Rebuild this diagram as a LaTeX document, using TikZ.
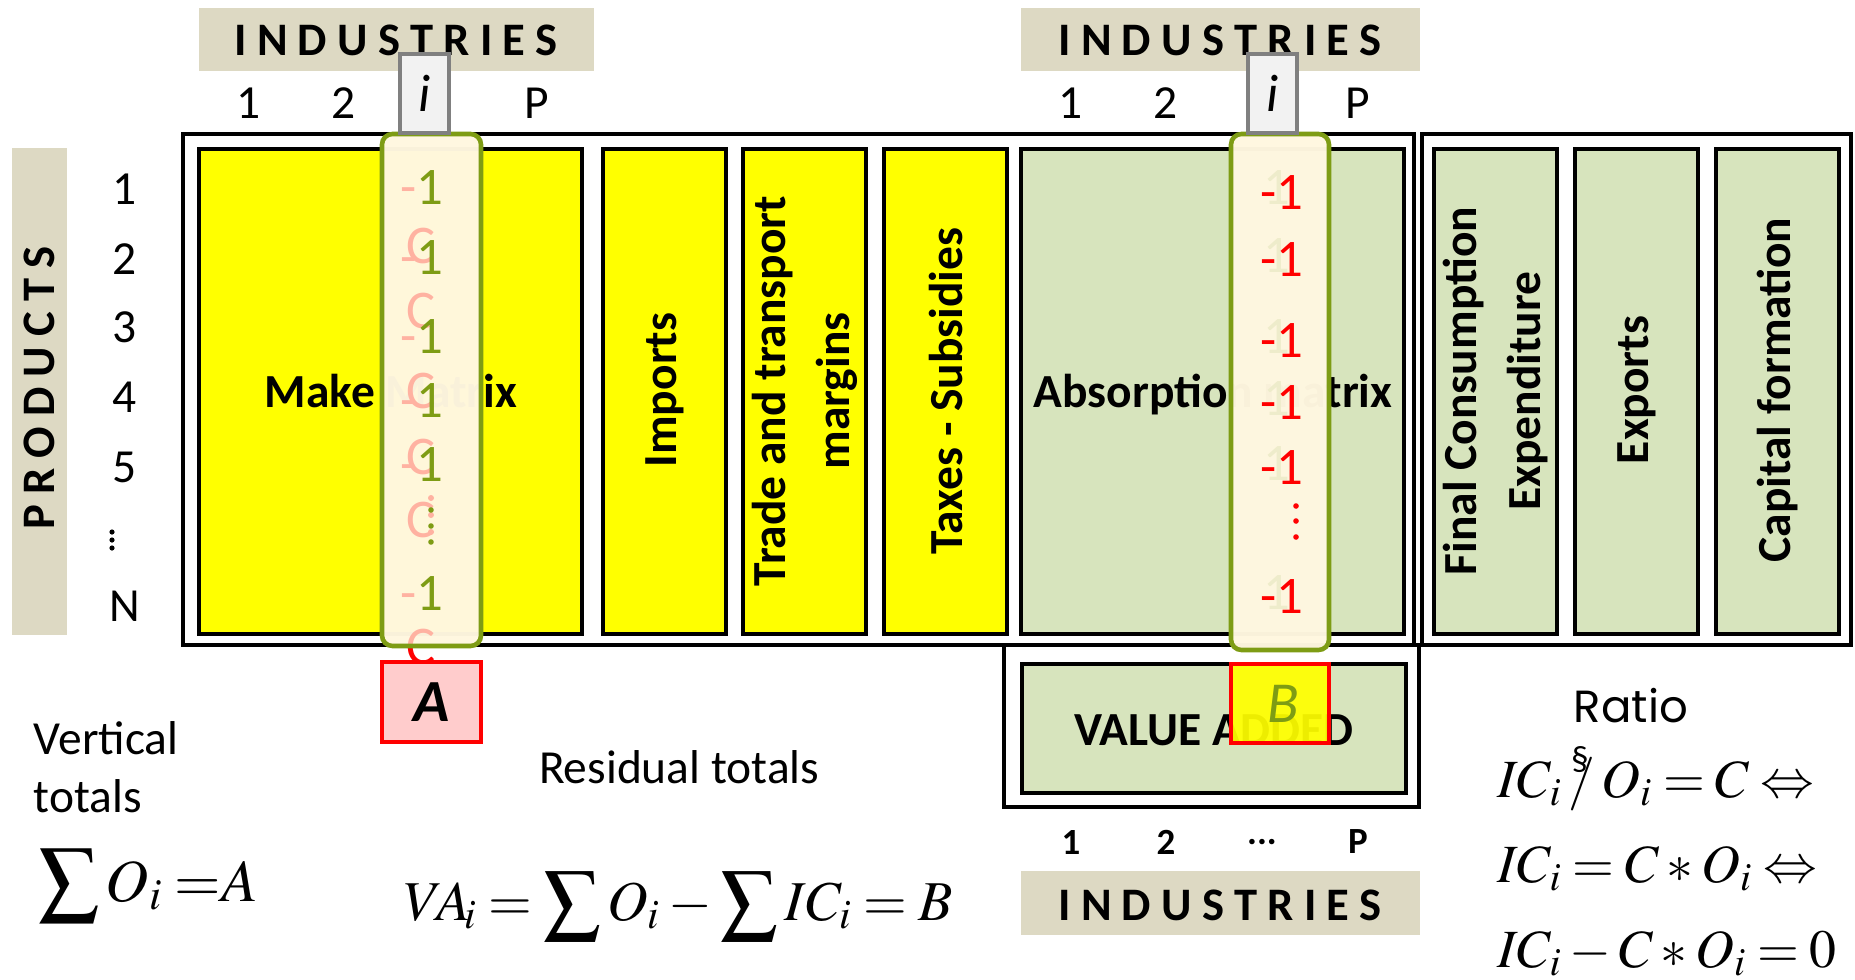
\documentclass[tikz,border=0pt]{standalone}
\usepackage[no-math]{fontspec}
\usepackage{mathptmx}
\setmainfont{Carlito}
\newfontfamily\ratiofont{Poppins}
\definecolor{tanband}{HTML}{DDD9C3}
\definecolor{yel}{HTML}{FFFF00}
\definecolor{lgreen}{HTML}{D7E4BD}
\definecolor{olive}{HTML}{7E9C14}
\definecolor{cream}{HTML}{FFF7E0}
\definecolor{pinkfill}{HTML}{FFCCCC}
\definecolor{ibox}{HTML}{F2F2F2}
\definecolor{iborder}{HTML}{808080}
\newcommand\lsp{\kern 2.9pt}
\newcommand\slashthing{\mathord{\rlap{\raisebox{1.05ex}{\kern0.05em\fontsize{10}{10}\selectfont\S}}/}}
\newcommand\tightmath{\thickmuskip=3.5mu plus 1mu\medmuskip=2.5mu plus 1mu}
\begin{document}
\begin{tikzpicture}[x=0.01cm,y=-0.01cm,
  every node/.style={inner sep=0pt,outer sep=0pt},
  mainframe/.style={draw=black,line width=1.4pt},
  cellbox/.style={draw=black,line width=0.9pt},
  bandtxt/.style={font=\fontsize{13.25}{16}\selectfont\bfseries},
  numtxt/.style={font=\fontsize{13.5}{16}\selectfont},
  boldnum/.style={font=\fontsize{10.5}{12}\selectfont\bfseries},
  celltxt/.style={font=\fontsize{13.5}{18.2}\selectfont\bfseries,align=center},
  rotcell/.style={celltxt,rotate=90},
  onetxt/.style={font=\fontsize{15}{18}\selectfont,anchor=base},
  ctxt/.style={font=\fontsize{15.5}{18}\selectfont,text=red},
  labtxt/.style={font=\fontsize{13.5}{16}\selectfont,anchor=base west},
  eq/.style={font=\fontsize{17}{20}\selectfont\tightmath,anchor=base west},
  eqv/.style={font=\fontsize{16}{19}\selectfont\tightmath,anchor=base west},
  eqr/.style={font=\fontsize{15.3}{18}\selectfont\tightmath,anchor=base west},
  colover/.style={fill=cream,rounded corners=3},
  ilab/.style={fill=ibox,draw=iborder,line width=1pt}]
\path[use as bounding box] (0,0) rectangle (1855,979);
\fill[white] (0,0) rectangle (1855,979);

% header bands
\fill[tanband] (199,8) rectangle (594,71);
\fill[tanband] (1021,8) rectangle (1420,71);
\fill[tanband] (1021,871) rectangle (1420,935);
\fill[tanband] (12,148) rectangle (67,635);
\node[bandtxt] (ind1) at (396,40) {I\lsp N\lsp D\lsp U\lsp S\lsp T\lsp R\lsp I\lsp E\lsp S};
\node[bandtxt] (ind2) at (1220,40) {I\lsp N\lsp D\lsp U\lsp S\lsp T\lsp R\lsp I\lsp E\lsp S};
\node[bandtxt] (ind3) at (1220,905) {I\lsp N\lsp D\lsp U\lsp S\lsp T\lsp R\lsp I\lsp E\lsp S};
\node[bandtxt,rotate=90] (prod) at (39,388) {P\lsp R\lsp O\lsp D\lsp U\lsp C\lsp T\lsp S};

% column labels
\node[numtxt] (c1a) at (249,103) {1};
\node[numtxt] (c2a) at (344,103) {2};
\node[numtxt] (cpa) at (537,103) {P};
\node[numtxt] (c1b) at (1071,103) {1};
\node[numtxt] (c2b) at (1166,103) {2};
\node[numtxt] (cpb) at (1358,103) {P};
% row labels
\node[numtxt] (r1) at (125,189) {1};
\node[numtxt] (r2) at (125,259) {2};
\node[numtxt] (r3) at (125,327) {3};
\node[numtxt] (r4) at (125,397) {4};
\node[numtxt] (r5) at (125,467) {5};
\fill (112,532) circle (2.6) (112,540) circle (2.6) (112,548) circle (2.6);
\node[numtxt] (rn) at (125,606) {N};

% frames
\draw[mainframe] (183,134) rectangle (1414,645);
\draw[mainframe] (1422,134) rectangle (1851,645);
\draw[mainframe] (1004,645) rectangle (1419,807);

% cells
\draw[cellbox,fill=yel] (199,149) rectangle (582,634);
\draw[cellbox,fill=yel] (603,149) rectangle (726,634);
\draw[cellbox,fill=yel] (743,149) rectangle (866,634);
\draw[cellbox,fill=yel] (884,149) rectangle (1007,634);
\draw[cellbox,fill=lgreen] (1021,149) rectangle (1404,634);
\draw[cellbox,fill=lgreen] (1434,149) rectangle (1557,634);
\draw[cellbox,fill=lgreen] (1575,149) rectangle (1698,634);
\draw[cellbox,fill=lgreen] (1716,149) rectangle (1839,634);
\draw[cellbox,fill=lgreen] (1022,664) rectangle (1406,793);

\node[celltxt,anchor=base] (make) at (391,407) {Make Matrix};
\node[rotcell] (imp) at (665,390) {Imports};
\node[rotcell] (ttm) at (805,391) {Trade and transport\\margins};
\node[rotcell] (tax) at (946,391) {Taxes - Subsidies};
\node[celltxt,anchor=base] (abs) at (1213,407) {Absorption matrix};
\node[rotcell] (fce) at (1496,391) {Final Consumption\\Expenditure};
\node[rotcell] (exp) at (1637,390) {Exports};
\node[rotcell] (cap) at (1778,390) {Capital formation};
\node[celltxt,anchor=base] (va) at (1214,745) {VALUE ADDED};

% bottom industry numbers
\node[boldnum] (b1) at (1071,842) {1};
\node[boldnum] (b2) at (1166,842) {2};
\node[boldnum] (bd) at (1262,842) {...};
\node[boldnum] (bp) at (1358,842) {P};

% highlighted columns, first layer
\fill[colover,fill opacity=0.92] (382,134) rectangle (481,646);
\fill[colover,fill opacity=0.92] (1231,134) rectangle (1329,650);

% faded items between layers
\foreach \yy [count=\k] in {246,311,391,457,520}
  \node[ctxt] (cc\k) at (421,\yy) {C};
\node[ctxt] (cc6) at (421,647) {C};
\foreach \yy [count=\k] in {205,274,353,417,481,610}
  \node[onetxt,text=red] (md\k) at (422,\yy) {-\phantom{1}};
\fill[red] (431,498) circle (3) (431,515) circle (3) (431,532) circle (3);
\foreach \yy [count=\k] in {205,272,353,415,480,609}
  \node[onetxt,text=olive!45] (gh\k) at (1277,\yy) {1};

% highlighted columns, second layer
\filldraw[colover,fill opacity=0.72,draw=olive,line width=1.3pt] (382,134) rectangle (481,646);
\filldraw[colover,fill opacity=0.72,draw=olive,line width=1.3pt] (1231,134) rectangle (1329,650);

% top layer values
\foreach \yy [count=\k] in {205,274,353,417,481,610}
  \node[onetxt,text=olive] (mo\k) at (422,\yy) {\phantom{-}1};
\fill[olive] (431,510) circle (2.8) (431,526) circle (2.8) (431,542) circle (2.8);
\foreach \yy [count=\k] in {209,276,357,419,484,613}
  \node[onetxt,text=red] (am\k) at (1282,\yy) {-1};
\fill[red] (1296,506) circle (2.8) (1296,521) circle (2.8) (1296,537) circle (2.8);

% i label boxes
\filldraw[ilab] (400,54) rectangle (449,133);
\node[font=\fontsize{15}{18}\selectfont\itshape] (ia) at (425,93) {i};
\filldraw[ilab] (1248,54) rectangle (1297,133);
\node[font=\fontsize{15}{18}\selectfont\itshape] (ib) at (1273,93) {i};

% A and B boxes
\filldraw[fill=pinkfill,draw=red,line width=0.9pt] (382,662) rectangle (481,742);
\node[font=\fontsize{17}{18}\selectfont\bfseries\itshape] (atxt) at (432,702) {A};
\filldraw[fill=yel,fill opacity=0.93,draw=red,line width=1.2pt] (1231,664) rectangle (1329,743);
\node[font=\fontsize{16.5}{18}\selectfont\itshape,text=olive] (btxt) at (1283,704) {B};

% lower texts
\node[labtxt] (vert1) at (34,754) {Vertical};
\node[labtxt] (vert2) at (34,812) {totals};
\node[labtxt] (resid) at (539,783) {Residual totals};
\node[font=\ratiofont\fontsize{12.8}{15}\selectfont,anchor=base] (ratio) at (1631,722) {Ratio};

\node[eq] (sumeq) at (38,901) {$\displaystyle\sum O_i\;{=}A$};
\node[eqv] (vaeq) at (404,920) {$V\!A_{\kern-0.12em i}=\displaystyle\sum O_i-\sum IC_i=B$};
\node[eqr] (req1) at (1497,797) {$IC_i\,\slashthing\,O_i=C\Leftrightarrow$};
\node[eqr] (req2) at (1497,882) {$IC_i=C*O_i\Leftrightarrow$};
\node[eqr] (req3) at (1497,967) {$IC_i-C*O_i=0$};
\end{tikzpicture}
\end{document}
